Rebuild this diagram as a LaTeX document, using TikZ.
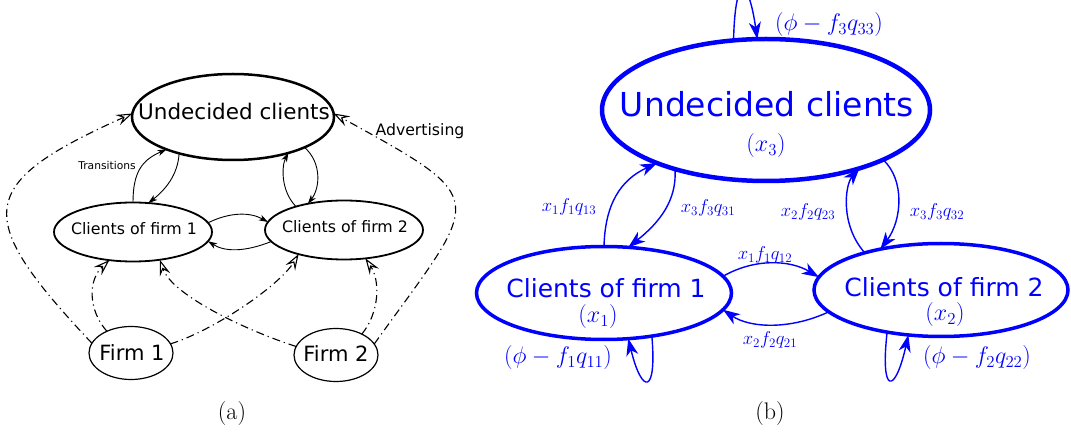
\RequirePackage{fix-cm}
\documentclass[tikz,border=0pt]{standalone}
\usepackage{fontspec}
\newfontfamily\dv{DejaVu Sans}
\usetikzlibrary{shapes.geometric,arrows.meta}
\begin{document}
\begin{tikzpicture}[x=1pt,y=-1pt,
  ell/.style={ellipse, draw, inner sep=0pt, outer sep=0pt},
  tx/.style={inner sep=0pt, outer sep=0pt},
  sa/.style={line width=0.9pt, -{Stealth[length=9pt,width=6pt,inset=2.5pt]}},
  da/.style={line width=1.1pt, dash pattern=on 8pt off 4pt on 1.2pt off 4pt,
             -{Stealth[open,length=16pt,width=11pt,inset=6pt,line width=1.1pt]}},
  bb/.style={blue, line width=1.4pt, -{Stealth[length=17pt,width=12pt,inset=5pt]}},
  bl/.style={tx, blue, font=\fontsize{18.6}{22}\selectfont},
  bm/.style={tx, blue, font=\fontsize{24}{28}\selectfont}]
\useasboundingbox (0,0) rectangle (1071,438);
\clip (0,0) rectangle (1071,438);

% ---------------- panel (a) ----------------
\node[ell, line width=2.5pt, minimum width=202pt, minimum height=86pt] (ua) at (233,117) {};
\node[ell, line width=1.8pt, minimum width=158pt, minimum height=59pt] (c1a) at (133,232) {};
\node[ell, line width=1.8pt, minimum width=158pt, minimum height=59pt] (c2a) at (344,230) {};
\node[ell, line width=1.2pt, minimum width=84pt, minimum height=53pt] (f1a) at (131,353) {};
\node[ell, line width=1.2pt, minimum width=84pt, minimum height=53pt] (f2a) at (336,355) {};

\node[tx, anchor=base, font=\dv\fontsize{21.5}{24}\selectfont] (uat) at (234,120) {Undecided clients};
\node[tx, anchor=base, font=\dv\fontsize{15.8}{18}\selectfont] (c1at) at (134,235) {Clients of firm 1};
\node[tx, anchor=base, font=\dv\fontsize{15.8}{18}\selectfont] (c2at) at (345,233) {Clients of firm 2};
\node[tx, anchor=base, font=\dv\fontsize{21}{24}\selectfont] (f1at) at (132,360) {Firm 1};
\node[tx, anchor=base, font=\dv\fontsize{21}{24}\selectfont] (f2at) at (336,361) {Firm 2};
\node[tx, anchor=base, font=\dv\fontsize{10.7}{12}\selectfont] (trl) at (107,170) {Transitions};
\node[tx, anchor=base, font=\dv\fontsize{15.7}{18}\selectfont] (adl) at (420,136) {Advertising};

\draw[sa] (c1a.90) .. controls (133,172) and (142,160) .. (ua.206);
\draw[sa] (ua.214) .. controls (178,175) and (165,190) .. (c1a.62);
\draw[sa] (c2a.154) .. controls (280,190) and (282,165) .. (ua.-33);
\draw[sa] (ua.-23) .. controls (322,163) and (320,188) .. (c2a.144);
\draw[sa] (c1a.7) .. controls (230,212) and (250,212) .. (c2a.174);
\draw[sa] (c2a.189) .. controls (245,252) and (225,252) .. (c1a.-7.5);

\draw[da] (f1a.166) .. controls (-28,216) and (-25,184) .. (ua.178);
\draw[da] (f2a.16) .. controls (481,195) and (495,202) .. (ua.2);
\draw[da] (f1a.138) .. controls (88,310) and (88,280) .. (c1a.230);
\draw[da] (f1a.13) .. controls (215,330) and (280,285) .. (c2a.208);
\draw[da] (f2a.168) .. controls (245,330) and (172,295) .. (c1a.-46);
\draw[da] (f2a.39) .. controls (380,312) and (380,280) .. (c2a.-53);

% ---------------- panel (b) ----------------
\node[ell, blue, line width=4.5pt, minimum width=328pt, minimum height=142pt] (ub) at (766,110) {};
\node[ell, blue, line width=3.5pt, minimum width=255pt, minimum height=93pt] (c1b) at (604,293) {};
\node[ell, blue, line width=3.5pt, minimum width=254pt, minimum height=93pt] (c2b) at (941,290) {};

\node[tx, blue, anchor=base, font=\dv\fontsize{33}{36}\selectfont] (ubt) at (767,117) {Undecided clients};
\node[bm] (ubx) at (766,146) {$(x_3)$};
\node[tx, blue, anchor=base, font=\dv\fontsize{25}{28}\selectfont] (c1bt) at (606,298) {Clients of firm 1};
\node[bm] (c1bx) at (598,317) {$(x_1)$};
\node[tx, blue, anchor=base, font=\dv\fontsize{25}{28}\selectfont] (c2bt) at (944,297) {Clients of firm 2};
\node[bm] (c2bx) at (945,315) {$(x_2)$};

\draw[bb] (c1b.90) .. controls (605,205) and (620,180) .. (ub.206);
\draw[bb] (ub.213) .. controls (677,200) and (660,222) .. (c1b.62);
\draw[bb] (c2b.154) .. controls (840,225) and (845,185) .. (ub.-32);
\draw[bb] (ub.-23) .. controls (905,180) and (902,220) .. (c2b.146);
\draw[bb] (c1b.8.5) .. controls (755,258) and (790,260) .. (c2b.174.6);
\draw[bb] (c2b.191) .. controls (790,330) and (750,328) .. (c1b.-8);
\draw[bb] (c1b.-42.6) .. controls (657,395) and (642,395) .. (c1b.-62);
\draw[bb] (c2b.218.5) .. controls (880,395) and (895,395) .. (c2b.234.7);
\draw[bb] (ub.115.6) .. controls (735,-25) and (748,-25) .. (ub.97.2);

\node[bl] (l13) at (569,207) {$x_1f_1q_{13}$};
\node[bl] (l31) at (708,208) {$x_3f_3q_{31}$};
\node[bl] (l23) at (808,212) {$x_2f_2q_{23}$};
\node[bl] (l32) at (937,212) {$x_3f_3q_{32}$};
\node[bl] (l12) at (765,255) {$x_1f_1q_{12}$};
\node[bl] (l21) at (770,340) {$x_2f_2q_{21}$};
\node[bm] (l33) at (829,25) {$(\phi-f_3q_{33})$};
\node[bm] (l11) at (558,358) {$(\phi-f_1q_{11})$};
\node[bm] (l22) at (977,358) {$(\phi-f_2q_{22})$};

% captions
\node[tx, font=\fontsize{24}{28}\selectfont] (capa) at (232,414) {(a)};
\node[tx, font=\fontsize{24}{28}\selectfont] (capb) at (770,414) {(b)};
\end{tikzpicture}
\end{document}
